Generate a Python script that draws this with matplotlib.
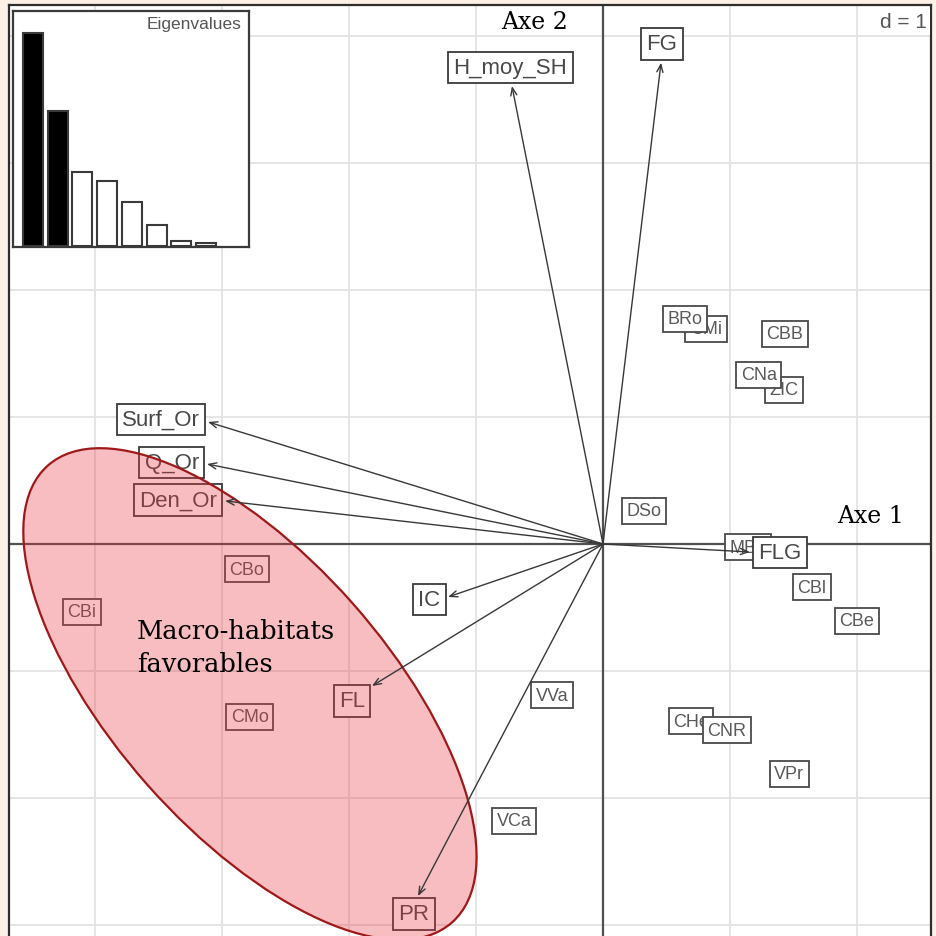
import numpy as np
import matplotlib
matplotlib.use("Agg")
import matplotlib.pyplot as plt
from matplotlib.patches import Ellipse

# ---- data -------------------------------------------------------------
# variable loadings (arrow tips) on axes 1 and 2
var_names = ["H_moy_SH", "FG", "Surf_Or", "Q_Or", "Den_Or", "IC", "FL", "PR", "FLG"]
var_x = [-0.717, 0.457, -3.11, -3.118, -2.976, -1.22, -1.819, -1.457, 1.157]
var_y = [3.606, 3.79, 0.961, 0.63, 0.339, -0.417, -1.118, -2.772, -0.063]

# site scores (drawn in this order, later labels on top)
site_names = ["CMi", "BRo", "CBB", "ZIC", "CNa", "DSo", "MBo", "CBl", "CBe",
              "CHe", "CNR", "VPr", "VVa", "VCa", "CBo", "CBi", "CMo"]
site_x = [0.811, 0.646, 1.433, 1.425, 1.228, 0.323, 1.142, 1.646, 2.0,
          0.693, 0.976, 1.465, -0.402, -0.701, -2.803, -4.102, -2.78]
site_y = [1.693, 1.772, 1.654, 1.213, 1.331, 0.260, -0.024, -0.339, -0.606,
          -1.394, -1.465, -1.811, -1.189, -2.181, -0.197, -0.535, -1.362]

# eigenvalues of the PCA
eigenvalues = [3.43, 2.17, 1.19, 1.05, 0.71, 0.34, 0.08, 0.04]
n_kept = 2

# ---- figure -------------------------------------------------------------
W, H = 936, 937
fig = plt.figure(figsize=(W / 100, H / 100), dpi=100)
fig.patch.set_facecolor("#fdf0e6")

left_px, right_px, top_px = 9, 931, 6
ax = fig.add_axes([left_px / W, 0, (right_px - left_px) / W, 1 - top_px / H])
ax.set_facecolor("white")

# 127 px per unit, origin at (603, 545)
unit = 127.0
ox, oy = 603, 545
ax.set_xlim((left_px - ox) / unit, (right_px - ox) / unit)
ax.set_ylim(-(H - oy) / unit, (oy - top_px) / unit)
ax.set_xticks([])
ax.set_yticks([])
for side in ["left", "top", "right"]:
    ax.spines[side].set_color("#2e2e2e")
    ax.spines[side].set_linewidth(1.6)
ax.spines["bottom"].set_visible(False)

# grid with d = 1
for gx in range(-4, 3):
    ax.axvline(gx, color="#e3e3e3", lw=1.3, zorder=0)
for gy in range(-3, 5):
    ax.axhline(gy, color="#e3e3e3", lw=1.3, zorder=0)
ax.axvline(0, color="#505050", lw=1.6, zorder=1)
ax.axhline(0, color="#505050", lw=1.6, zorder=1)

# site labels
site_box = dict(boxstyle="square,pad=0.25", fc="white", ec="#4a4a4a", lw=1.3)
for i, (n, x, y) in enumerate(zip(site_names, site_x, site_y)):
    ax.text(x, y, n, ha="center", va="center", fontsize=13, color="#595959",
            family="Liberation Sans", bbox=site_box, zorder=2 + i * 0.01)

# variable arrows and labels
var_box = dict(boxstyle="square,pad=0.24", fc="white", ec="#3a3a3a", lw=1.3)
for n, x, y in zip(var_names, var_x, var_y):
    r = np.hypot(x, y)
    ux, uy = x / r, y / r
    ha = "center" if abs(ux) < 0.5 else ("left" if ux > 0 else "right")
    va = "center" if abs(uy) < 0.5 else ("bottom" if uy > 0 else "top")
    ax.annotate(n, xy=(x, y), xytext=(ux * 6, uy * 6), textcoords="offset points",
                ha=ha, va=va, fontsize=16, color="#484848", family="Liberation Sans",
                bbox=var_box, zorder=3)
    ax.annotate("", xy=(x, y), xytext=(0, 0),
                arrowprops=dict(arrowstyle="->,head_length=0.55,head_width=0.22",
                                color="#383838", lw=1.0, shrinkA=0, shrinkB=0),
                zorder=5)

# highlighted group of sites
ell_center = (-2.780, -1.181)
ell_w, ell_h, ell_angle = 4.803, 2.157, -48.5
ax.add_patch(Ellipse(ell_center, width=ell_w, height=ell_h, angle=ell_angle,
                     facecolor="#e8343f", alpha=0.32, edgecolor="none", zorder=4))
ax.add_patch(Ellipse(ell_center, width=ell_w, height=ell_h, angle=ell_angle,
                     facecolor="none", edgecolor="#a01818", lw=1.6, zorder=4.1))

ax.text(-3.669, -0.81, "Macro-habitats\nfavorables", ha="left", va="center",
        fontsize=18.5, family="DejaVu Serif", color="black", linespacing=1.38, zorder=6)
ax.text(-0.535, 4.118, "Axe 2", ha="center", va="center", fontsize=17,
        family="DejaVu Serif", color="black", zorder=6)
ax.text(2.11, 0.228, "Axe 1", ha="center", va="center", fontsize=17,
        family="DejaVu Serif", color="black", zorder=6)
ax.text(0.995, 0.992, "d = 1", transform=ax.transAxes, ha="right", va="top",
        fontsize=15, color="#555555", family="Liberation Sans",
        bbox=dict(boxstyle="square,pad=0.15", fc="white", ec="none"), zorder=6)

# eigenvalue inset
axi = fig.add_axes([13 / W, 1 - 248 / H, 236 / W, 236 / H])
axi.set_facecolor("white")
idx = np.arange(len(eigenvalues))
colors = ["black" if i < n_kept else "white" for i in idx]
axi.bar(idx, eigenvalues, width=0.81, color=colors, edgecolor="#3a3a3a", lw=1.5)
axi.set_xlim(-0.81, 8.74)
axi.set_ylim(-0.02, 3.78)
axi.set_xticks([])
axi.set_yticks([])
for s in axi.spines.values():
    s.set_color("#3a3a3a")
    s.set_linewidth(1.6)
axi.text(0.97, 0.98, "Eigenvalues", transform=axi.transAxes, ha="right", va="top",
         fontsize=12.5, color="#555555", family="Liberation Sans")

fig.savefig("out.png", dpi=100, facecolor=fig.get_facecolor())
